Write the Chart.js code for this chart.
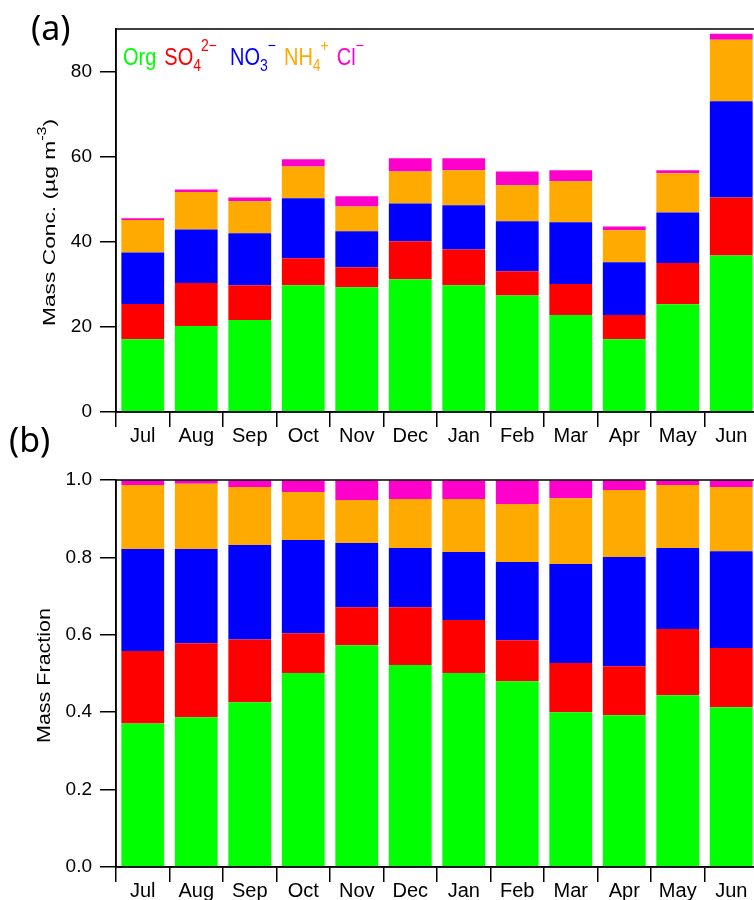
<!DOCTYPE html>
<html>
<head>
<meta charset="utf-8">
<script src="https://cdn.jsdelivr.net/npm/chart.js@4.4.1/dist/chart.umd.min.js"></script>
<style>
html, body { margin: 0; padding: 0; background: #fff; overflow: hidden; width: 754px; height: 900px; }
#wrap { position: relative; width: 754px; height: 900px; }
canvas { position: absolute; left: 0; }
#massChart { top: 0; }
#fracChart { top: 420px; }
</style>
</head>
<body>
<div id="wrap">
    <canvas id="massChart" width="758" height="460"></canvas>
    <canvas id="fracChart" width="758" height="480"></canvas>
</div>
<script>
const months = ['Jul', 'Aug', 'Sep', 'Oct', 'Nov', 'Dec', 'Jan', 'Feb', 'Mar', 'Apr', 'May', 'Jun'];
const seriesNames = ['Org', 'SO', 'NO', 'NH', 'Cl'];
const seriesSub = ['', '4', '3', '4', ''];
const seriesSup = ['', '2\u2212', '\u2212', '+', '\u2212'];
const seriesColors = ['#00ff00', '#ff0000', '#0000ff', '#ffaa00', '#ff00cc'];

// (a) mass concentration, ug m-3
const orgConc = [17.1, 20.2, 21.6, 29.8, 29.3, 31.2, 29.8, 27.4, 22.8, 17.1, 25.3, 36.8];
const so4Conc = [8.3, 10.1, 8.2, 6.3, 4.7, 8.9, 8.4, 5.7, 7.3, 5.7, 9.7, 13.6];
const no3Conc = [12.1, 12.6, 12.2, 14.1, 8.5, 8.9, 10.4, 11.7, 14.5, 12.4, 11.9, 22.6];
const nh4Conc = [7.6, 8.8, 7.5, 7.5, 5.8, 7.5, 8.2, 8.5, 9.6, 7.5, 9.2, 14.5];
const clConc = [0.4, 0.6, 0.9, 1.7, 2.4, 3.1, 2.8, 3.2, 2.6, 0.9, 0.7, 1.4];

// (b) mass fraction
const orgFrac = [0.371, 0.387, 0.426, 0.501, 0.573, 0.522, 0.501, 0.480, 0.400, 0.392, 0.444, 0.413];
const so4Frac = [0.187, 0.191, 0.162, 0.103, 0.098, 0.149, 0.137, 0.106, 0.127, 0.127, 0.171, 0.153];
const no3Frac = [0.264, 0.244, 0.244, 0.241, 0.166, 0.153, 0.176, 0.202, 0.256, 0.282, 0.209, 0.250];
const nh4Frac = [0.165, 0.168, 0.150, 0.124, 0.111, 0.127, 0.137, 0.150, 0.170, 0.173, 0.163, 0.166];
const clFrac = [0.013, 0.010, 0.018, 0.031, 0.052, 0.049, 0.049, 0.062, 0.047, 0.026, 0.013, 0.018];

const concTicks = [0, 20, 40, 60, 80];
const fracTicks = [0, 0.2, 0.4, 0.6, 0.8, 1.0];

const FONT = "'Liberation Sans', Arial, sans-serif";

function buildDatasets(lists) {
    return lists.map((values, i) => ({
        label: seriesNames[i] + seriesSub[i],
        data: values,
        backgroundColor: seriesColors[i],
        borderWidth: 0,
        barPercentage: 0.8,
        categoryPercentage: 1.0
    }));
}

// rotated y title, stretched along its length to the target size
function drawYTitle(ctx, parts, cx, cy, size, targetLen) {
    ctx.save();
    let total = 0;
    parts.forEach(p => {
        ctx.font = (p.sup ? Math.round(size * 0.7) : size) + 'px ' + FONT;
        p.w = ctx.measureText(p.t).width;
        total += p.w;
    });
    ctx.translate(cx, cy);
    ctx.rotate(-Math.PI / 2);
    ctx.scale(targetLen / total, 1);
    ctx.fillStyle = '#000';
    ctx.textBaseline = 'middle';
    let x = -total / 2;
    parts.forEach(p => {
        ctx.font = (p.sup ? Math.round(size * 0.7) : size) + 'px ' + FONT;
        ctx.fillText(p.t, x, p.sup ? -size * 0.45 : 0);
        x += p.w;
    });
    ctx.restore();
}

const framePlugin = {
    id: 'frame',
    afterDatasetsDraw(chart) {
        const { ctx, chartArea: a } = chart;
        ctx.save();
        ctx.strokeStyle = '#000';
        ctx.lineWidth = 1.5;
        ctx.strokeRect(a.left, a.top, a.right - a.left, a.bottom - a.top);
        ctx.restore();
    }
};

const decoPlugin = {
    id: 'deco',
    afterDraw(chart, args, opts) {
        const ctx = chart.ctx;
        ctx.save();
        ctx.fillStyle = '#000';
        ctx.font = "34px 'Noto Sans', 'Open Sans', sans-serif";
        ctx.textBaseline = 'middle';
        ctx.fillText(opts.letter, opts.letterX, opts.letterY);
        ctx.restore();
        drawYTitle(ctx, opts.title, opts.titleX, (chart.chartArea.top + chart.chartArea.bottom) / 2 + 2,
            opts.titleSize, opts.titleLen);
    }
};

// coloured formula legend, glyphs a bit taller than wide like the original
const legendPlugin = {
    id: 'formulaLegend',
    afterDraw(chart) {
        const { ctx, chartArea } = chart;
        let x = chartArea.left + 7;
        const y = chartArea.top + 36;
        ctx.save();
        ctx.translate(0, y);
        ctx.scale(1, 1.18);
        ctx.textBaseline = 'alphabetic';
        seriesNames.forEach((name, i) => {
            ctx.fillStyle = seriesColors[i];
            ctx.font = '20px ' + FONT;
            ctx.fillText(name, x, 0);
            x += ctx.measureText(name).width;
            ctx.font = '14px ' + FONT;
            if (seriesSub[i]) {
                ctx.fillText(seriesSub[i], x, 5);
                x += ctx.measureText(seriesSub[i]).width;
            }
            if (seriesSup[i]) {
                ctx.fillText(seriesSup[i], x, -12);
                x += ctx.measureText(seriesSup[i]).width;
            }
            x += i === 1 ? 13 : 8;
        });
        ctx.restore();
    }
};

function makeOptions(cfg) {
    return {
        responsive: false,
        devicePixelRatio: 1,
        animation: false,
        layout: { padding: { top: cfg.top, left: 0, right: 0, bottom: 0 } },
        plugins: {
            legend: { display: false },
            tooltip: { enabled: false },
            deco: cfg.deco
        },
        scales: {
            x: {
                stacked: true,
                offset: true,
                grid: { offset: true, drawOnChartArea: false, tickLength: 15, color: '#000', lineWidth: 1.5 },
                border: { color: '#000', width: 1.5 },
                ticks: { color: '#000', font: { family: FONT, size: 20 }, padding: -3, maxRotation: 0 },
                afterFit(scale) { scale.height = cfg.xHeight; }
            },
            y: {
                stacked: true,
                min: 0,
                max: cfg.max,
                grid: { drawOnChartArea: false, tickLength: 16, color: '#000', lineWidth: 1.5 },
                border: { color: '#000', width: 1.5 },
                afterBuildTicks(scale) { scale.ticks = cfg.ticks.map(v => ({ value: v })); },
                ticks: {
                    color: '#000',
                    padding: 8,
                    font: { family: FONT, size: 19 },
                    callback: cfg.fmt
                },
                afterFit(scale) { scale.width = 116; }
            }
        }
    };
}

new Chart(document.getElementById('massChart'), {
    type: 'bar',
    data: {
        labels: months,
        datasets: buildDatasets([orgConc, so4Conc, no3Conc, nh4Conc, clConc])
    },
    options: makeOptions({
        top: 29, xHeight: 48, max: 90, ticks: concTicks,
        fmt: v => String(v),
        deco: {
            letter: '(a)', letterX: 31, letterY: 30,
            title: [{ t: 'Mass Conc. (\u00b5g m' }, { t: '-3', sup: true }, { t: ')' }],
            titleX: 50, titleSize: 17, titleLen: 207
        }
    }),
    plugins: [framePlugin, decoPlugin, legendPlugin]
});

new Chart(document.getElementById('fracChart'), {
    type: 'bar',
    data: {
        labels: months,
        datasets: buildDatasets([orgFrac, so4Frac, no3Frac, nh4Frac, clFrac])
    },
    options: makeOptions({
        top: 60, xHeight: 33, max: 1.0, ticks: fracTicks,
        fmt: v => v.toFixed(1),
        deco: {
            letter: '(b)', letterX: 9, letterY: 22,
            title: [{ t: 'Mass Fraction' }],
            titleX: 45, titleSize: 18, titleLen: 135
        }
    }),
    plugins: [framePlugin, decoPlugin]
});
</script>
</body>
</html>
